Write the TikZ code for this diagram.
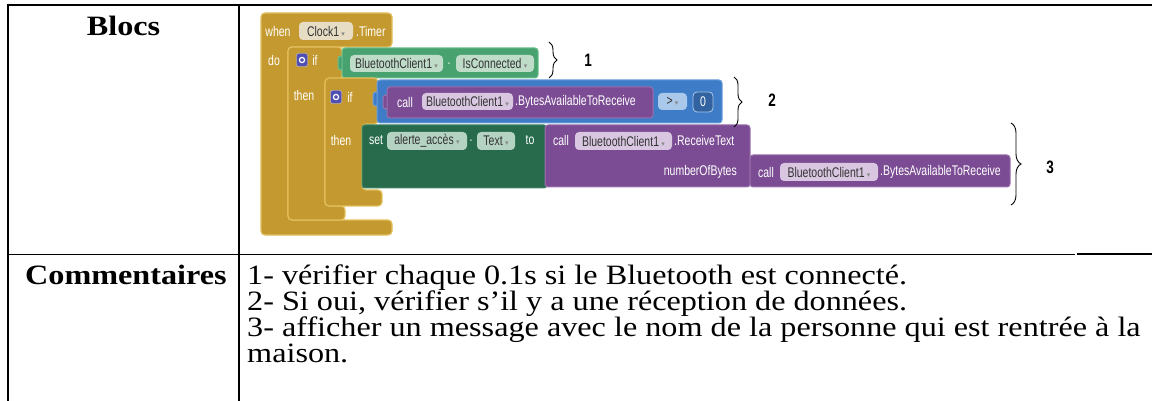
\documentclass[tikz,border=0pt]{standalone}
\usepackage{fontspec}
\setmainfont{Liberation Serif}[FakeStretch=1.15]
\newfontfamily\blkfont[FakeStretch=0.75]{Liberation Sans}
\newfontfamily\symfont{DejaVu Sans}
\usetikzlibrary{decorations.pathreplacing}

\definecolor{gold}{HTML}{C49A30}
\definecolor{goldedge}{HTML}{E2BE5C}
\definecolor{pillgold}{HTML}{E6DDC4}
\definecolor{compgreen}{HTML}{47A26F}
\definecolor{compgreenedge}{HTML}{6CBF8E}
\definecolor{setgreen}{HTML}{276B4C}
\definecolor{setgreenedge}{HTML}{3F8563}
\definecolor{mathblue}{HTML}{3E7CC8}
\definecolor{mathblueedge}{HTML}{6A9EDB}
\definecolor{methpurple}{HTML}{7B4C93}
\definecolor{methpurpleedge}{HTML}{9A70AE}
\definecolor{gearblue}{HTML}{4F4FB3}
\definecolor{pillgreen}{HTML}{BFDCC9}
\definecolor{pillset}{HTML}{B5D3C3}
\definecolor{pillpurple}{HTML}{D9C6E1}
\definecolor{pillblue}{HTML}{A9C8EA}
\definecolor{pilltext}{HTML}{333333}
\definecolor{ddgray}{HTML}{8A8A8A}

\newcommand\ddarrow{\,{\color{ddgray}\symfont\fontsize{7}{7}\selectfont ▾}}

\tikzset{
  goldblock/.style={fill=gold, draw=goldedge, line width=1.2pt, rounded corners=4pt},
  valblock/.style={rounded corners=3pt, line width=1pt},
  lbl/.style={text=white, font=\blkfont\fontsize{14}{14}\selectfont, inner sep=0pt},
  pill/.style={rounded corners=4pt, inner sep=0pt, text=pilltext,
    font=\blkfont\fontsize{14}{14}\selectfont},
  gear/.style={fill=gearblue, draw=white!70!gearblue, rounded corners=2pt,
    minimum width=11pt, minimum height=13pt, inner sep=0pt},
  brc/.style={decorate, decoration={brace, amplitude=8pt}, line width=0.9pt},
  num/.style={font=\blkfont\bfseries\fontsize{18}{18}\selectfont, inner sep=0pt},
  head/.style={font=\bfseries\fontsize{28}{28}\selectfont, inner sep=0pt},
  body/.style={font=\fontsize{28}{26}\selectfont, inner sep=0pt, anchor=base west},
  rule/.style={line width=2pt},
}

\begin{document}
\begin{tikzpicture}[x=1pt,y=-1pt]
\useasboundingbox (0,0) rectangle (1152,401);

% ---- table rules ----
\draw[rule] (8,5) -- (1152,5);
\draw[rule] (8,4) -- (8,401);
\draw[rule] (239,5) -- (239,401);
\draw[line width=1.4pt] (8,254.5) -- (1075,254.5);
\draw[line width=2pt] (1077,253.5) -- (1152,253.5);

% ---- header cells ----
\node[head, anchor=base] (hblocs) at (123.5,36) {Blocs};
\node[head, anchor=base west] (hcomm) at (25,284) {Commentaires};

% ---- comment lines ----
\node[body] (c1) at (247,284) {1- vérifier chaque 0.1s si le Bluetooth est connecté.};
\node[body] (c2) at (247,310) {2- Si oui, vérifier s’il y a une réception de données.};
\node[body] (c3) at (247,336) {3- afficher un message avec le nom de la personne qui est rentrée à la};
\node[body] (c4) at (247,362) {maison.};

% ---- event block: when Clock1.Timer ----
\draw[goldblock] (261,13) -- (392,13) -- (392,47) -- (288,47) -- (288,220)
  -- (392,220) -- (392,235) -- (261,235) -- cycle;
\node[lbl] (when) at (278,31) {when};
\node[pill, fill=pillgold, minimum width=54pt, minimum height=18pt] (clock) at (326,31) {Clock1\ddarrow};
\node[lbl, anchor=west] (timer) at (356,31) {.Timer};
\node[lbl] (do) at (274,60) {do};

% ---- outer if block ----
\draw[goldblock] (288,47) -- (342,47) -- (342,80) -- (325,80) -- (325,206)
  -- (345,206) -- (345,220) -- (288,220) -- cycle;
\node[gear] (gear1) at (302,60) {};
\draw[white, line width=1.2pt] (gear1.center) circle (2.6pt);
\node[lbl] (if1) at (315,60) {if};
\node[lbl] (then1) at (304,95) {then};

% ---- condition: BluetoothClient1.IsConnected ----
\draw[valblock, fill=compgreen, draw=compgreenedge] (338,56) rectangle (344,70);
\draw[valblock, fill=compgreen, draw=compgreenedge] (342,48) rectangle (538,78);
\node[pill, fill=pillgreen, minimum width=93pt, minimum height=17pt] (bc1) at (396.5,63.5) {BluetoothClient1\ddarrow};
\node[lbl] (dot1) at (449,64) {.};
\node[pill, fill=pillgreen, minimum width=78pt, minimum height=17pt] (iscon) at (495,63.5) {IsConnected\ddarrow};

% ---- inner if block ----
\draw[goldblock] (325,78) -- (378,78) -- (378,124) -- (362,124) -- (362,190)
  -- (382,190) -- (382,206) -- (325,206) -- cycle;
\node[gear] (gear2) at (336,97) {};
\draw[white, line width=1.2pt] (gear2.center) circle (2.6pt);
\node[lbl] (if2) at (350,97) {if};
\node[lbl] (then2) at (341,140) {then};

% ---- compare: BytesAvailableToReceive > 0 ----
\draw[valblock, fill=mathblue, draw=mathblueedge] (373,92) rectangle (379,106);
\draw[valblock, fill=mathblue, draw=mathblueedge] (377,80) rectangle (722,123);
\draw[valblock, fill=methpurple, draw=methpurpleedge] (383,95) rectangle (389,109);
\draw[valblock, fill=methpurple, draw=methpurpleedge] (387,87) rectangle (653,118);
\node[lbl] (call1) at (405,102) {call};
\node[pill, fill=pillpurple, minimum width=91pt, minimum height=17pt] (bc2) at (467.5,101.5) {BluetoothClient1\ddarrow};
\node[lbl, anchor=west] (bytes1) at (515,102) {.BytesAvailableToReceive};
\node[pill, fill=pillblue, minimum width=29pt, minimum height=17pt] (gt) at (672.5,101.5) {>\ddarrow};
\node[pill, fill=mathblue!80!black, draw=pillblue, line width=0.8pt, text=white,
  minimum width=20pt, minimum height=20pt] (zero) at (703,102) {0};

% ---- set alerte_accès.Text ----
\draw[valblock, fill=setgreen, draw=setgreenedge] (362,125) rectangle (547,188);
\node[lbl] (set) at (376,140) {set};
\node[pill, fill=pillset, minimum width=80pt, minimum height=18pt] (alerte) at (427,141) {alerte\_accès\ddarrow};
\node[lbl] (dot2) at (471,141) {.};
\node[pill, fill=pillset, minimum width=38pt, minimum height=18pt] (textp) at (496,141) {Text\ddarrow};
\node[lbl] (to) at (530,140) {to};

% ---- call BluetoothClient1.ReceiveText ----
\draw[valblock, fill=methpurple, draw=methpurpleedge] (545,125) rectangle (750,187);
\node[lbl] (call2) at (561,140) {call};
\node[pill, fill=pillpurple, minimum width=97pt, minimum height=18pt] (bc3) at (623.5,141) {BluetoothClient1\ddarrow};
\node[lbl, anchor=west] (recv) at (674,140) {.ReceiveText};
\node[lbl, anchor=east] (nob) at (737,172) {numberOfBytes};

% ---- call BluetoothClient1.BytesAvailableToReceive ----
\draw[valblock, fill=methpurple, draw=methpurpleedge] (750,155) rectangle (1010,187);
\node[lbl] (call3) at (766,172) {call};
\node[pill, fill=pillpurple, minimum width=98pt, minimum height=18pt] (bc4) at (829,172) {BluetoothClient1\ddarrow};
\node[lbl, anchor=west] (bytes2) at (880,172) {.BytesAvailableToReceive};

% ---- braces and their numbers ----
\coordinate (b1t) at (549,42);  \coordinate (b1b) at (549,78);
\coordinate (b2t) at (734,77);  \coordinate (b2b) at (734,127);
\coordinate (b3t) at (1011,123); \coordinate (b3b) at (1011,205);
\draw[brc] (b1t) -- (b1b);
\draw[brc] (b2t) -- (b2b);
\draw[brc, decoration={amplitude=10pt}] (b3t) -- (b3b);
\node[num] (n1) at (588,60) {1};
\node[num] (n2) at (772,100) {2};
\node[num] (n3) at (1050,167) {3};
\end{tikzpicture}
\end{document}
